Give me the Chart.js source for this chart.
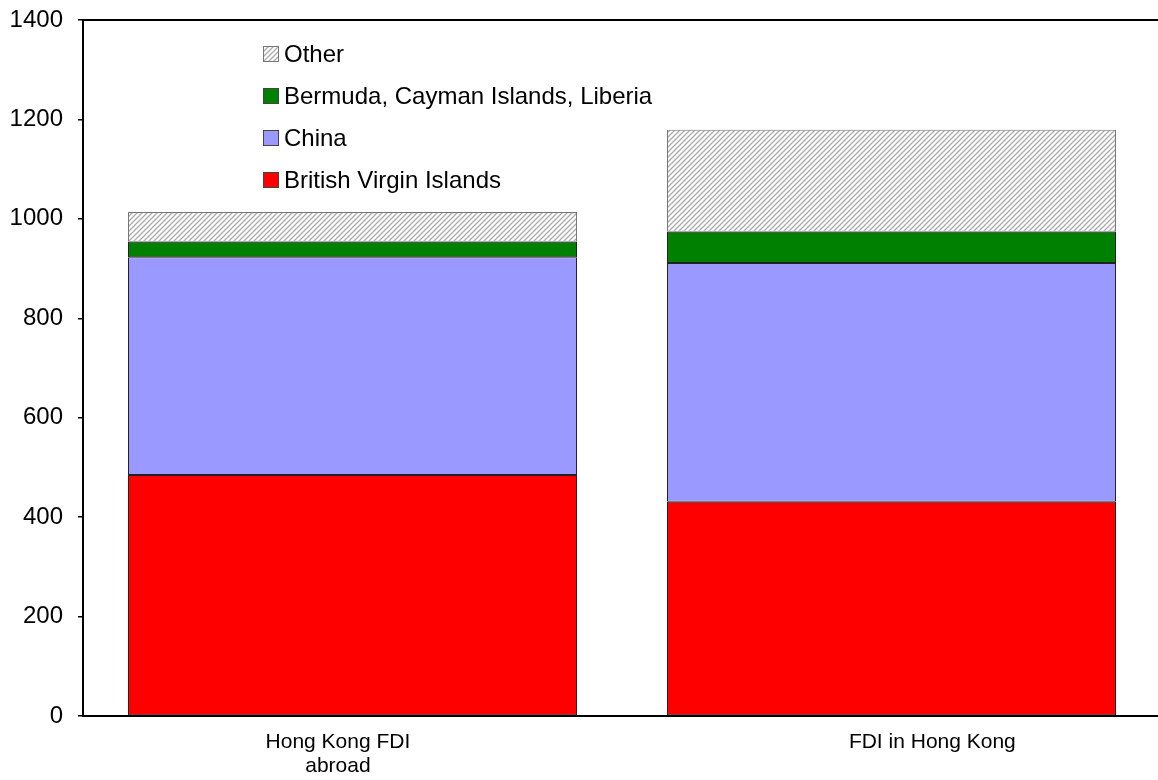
<!DOCTYPE html>
<html>
<head>
<meta charset="utf-8">
<script src="https://cdn.jsdelivr.net/npm/chart.js@4.4.1/dist/chart.umd.min.js"></script>
<style>
  html, body { margin: 0; padding: 0; background: #fff; overflow: hidden; }
  #wrap { position: relative; width: 1161px; height: 780px; }
</style>
</head>
<body>
<div id="wrap"><canvas id="fdiChart"></canvas></div>
<script>
// data (US$ bn)
// the labels sit a little off the bar centres in the original, hence the padding spaces
const categories = [['Hong Kong FDI     ', 'abroad     '], '              FDI in Hong Kong'];
const bviValues = [485, 431];
const chinaValues = [438, 480];
const offshoreValues = [31, 63];
const otherValues = [60, 205];
const yTicks = [0, 200, 400, 600, 800, 1000, 1200, 1400];

// grey diagonal hatch for "Other"
function makeHatch() {
    const c = document.createElement('canvas');
    c.width = 5; c.height = 5;
    const g = c.getContext('2d');
    g.fillStyle = '#ffffff';
    g.fillRect(0, 0, 5, 5);
    g.strokeStyle = '#aaaaaa';
    g.lineWidth = 1.3;
    g.beginPath();
    g.moveTo(-1, 6); g.lineTo(6, -1);
    g.moveTo(-4, 4); g.lineTo(4, -4);
    g.moveTo(1, 9); g.lineTo(9, 1);
    g.stroke();
    return g.createPattern(c, 'repeat');
}
const hatch = makeHatch();

// legend drawn inside the plot, top series first
const insideLegend = {
    id: 'insideLegend',
    afterDraw(chart) {
        const ctx = chart.ctx;
        const sets = chart.data.datasets.slice().reverse();
        ctx.save();
        ctx.font = '24px "Liberation Sans", Arial, sans-serif';
        ctx.textBaseline = 'middle';
        sets.forEach((ds, i) => {
            const y = 54 + i * 42;
            ctx.fillStyle = ds.backgroundColor;
            ctx.fillRect(263, y - 8, 16, 16);
            ctx.strokeStyle = ds.legendBorder;
            ctx.lineWidth = 1;
            ctx.strokeRect(263.5, y - 7.5, 15, 15);
            ctx.fillStyle = '#000';
            ctx.fillText(ds.label, 284, y + 1);
        });
        ctx.restore();
    }
};

const ctx = document.getElementById('fdiChart').getContext('2d');
new Chart(ctx, {
    type: 'bar',
    data: {
        labels: categories,
        datasets: [
            { label: 'British Virgin Islands', data: bviValues, backgroundColor: '#ff0000', borderColor: '#222', legendBorder: '#444' },
            { label: 'China', data: chinaValues, backgroundColor: '#9999ff', borderColor: '#222', legendBorder: '#444' },
            { label: 'Bermuda, Cayman Islands, Liberia', data: offshoreValues, backgroundColor: '#008000', borderColor: '#222', legendBorder: '#444' },
            { label: 'Other', data: otherValues, backgroundColor: hatch, borderColor: '#777', legendBorder: '#777' }
        ]
    },
    options: {
        responsive: true,
        maintainAspectRatio: false,
        animation: false,
        layout: { padding: { top: 20, right: 0, left: 0, bottom: 0 } },
        datasets: {
            bar: { categoryPercentage: 1, barPercentage: 0.833, borderWidth: 1, borderSkipped: false }
        },
        plugins: {
            legend: { display: false },
            tooltip: { enabled: false }
        },
        scales: {
            x: {
                stacked: true,
                grid: { display: false, drawTicks: false },
                border: { display: true, color: '#000', width: 2 },
                ticks: {
                    color: '#000',
                    padding: 14,
                    maxRotation: 0,
                    font: { size: 21, family: '"Liberation Sans", Arial, sans-serif', lineHeight: 1.15 }
                },
                afterFit: s => { s.height = 64; }
            },
            xTop: {
                position: 'top',
                grid: { display: false, drawTicks: false },
                border: { display: true, color: '#000', width: 2 },
                ticks: { display: false },
                afterFit: s => { s.height = 0; }
            },
            y: {
                stacked: true,
                min: 0,
                max: 1400,
                afterBuildTicks: s => { s.ticks = yTicks.map(v => ({ value: v })); },
                grid: { drawOnChartArea: false, color: '#000', tickLength: 5, lineWidth: 1.5 },
                border: { display: true, color: '#000', width: 2 },
                ticks: {
                    color: '#000',
                    padding: 15,
                    callback: v => String(v),
                    font: { size: 24, family: '"Liberation Sans", Arial, sans-serif' }
                },
                afterFit: s => { s.width = 83; s.paddingTop = 0; s.paddingBottom = 0; }
            }
        }
    },
    plugins: [insideLegend]
});
</script>
</body>
</html>
